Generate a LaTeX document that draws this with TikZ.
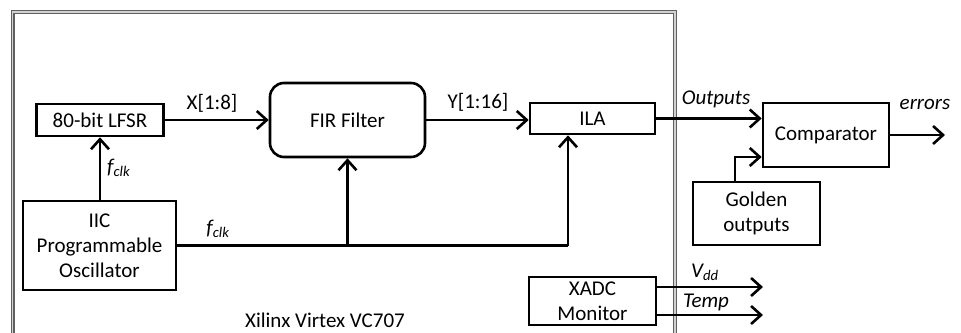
\documentclass[tikz,border=0pt]{standalone}
\usepackage{fontspec}
\setmainfont{Carlito}
\usetikzlibrary{arrows.meta,positioning}

\tikzset{
  blockbox/.style={draw, line width=2.6pt, fill=white, align=center, inner sep=0pt},
  wire/.style={line width=2.6pt},
  sig/.style={wire, -{Straight Barb[length=10pt,width=18pt,line width=2.6pt]}},
  lbl/.style={inner sep=0pt}
}

\begin{document}
\begin{tikzpicture}[x=1pt, y=-1pt, font=\fontsize{21}{25}\selectfont]
  \useasboundingbox (0,0) rectangle (961,332);
  \clip (0,0) rectangle (961,332);

  % board outline
  \draw[draw=gray!75!black, line width=1.2pt, double=gray!35, double distance=1.6pt]
    (12.5,12) rectangle (675,360);

  % blocks
  \node[blockbox, minimum width=127pt, minimum height=32pt] (lfsr) at (100,120) {80-bit LFSR};
  \node[blockbox, rounded corners=14pt, minimum width=155pt, minimum height=74pt] (fir) at (347.5,120) {FIR Filter};
  \node[blockbox, minimum width=125pt, minimum height=31pt] (ila) at (592.5,118.5) {ILA};
  \node[blockbox, minimum width=126pt, minimum height=64pt] (comp) at (826,135) {Comparator};
  \node[blockbox, minimum width=127pt, minimum height=63pt] (gold) at (756.5,213.5) {Golden\\outputs};
  \node[blockbox, minimum width=153pt, minimum height=89pt] (osc) at (99.5,245.5) {IIC\\Programmable\\Oscillator};
  \node[blockbox, minimum width=127pt, minimum height=48pt] (xadc) at (592.5,301) {XADC\\Monitor};

  % free ends
  \coordinate (clkila) at (568,245.5);
  \coordinate (gtap) at (735,157);
  \coordinate (err) at (945,135);
  \coordinate (vdd) at (763,287);
  \coordinate (temp) at (763,315);

  % connectors
  \draw[sig] (lfsr.east) -- (fir.west);
  \draw[sig] (fir.east) -- (fir.east -| ila.west);
  \draw[sig] (ila.east) -- (ila.east -| comp.west);
  \draw[sig] (comp.east) -- (err);
  \draw[sig] (osc.north -| lfsr.south) -- (lfsr.south);
  \draw[wire] (osc.east) -- (clkila);
  \draw[sig] (clkila) -- (clkila |- ila.south);
  \draw[sig] (fir.south |- osc.east) -- (fir.south);
  \draw[sig] (gtap |- gold.north) -- (gtap) -- (gtap -| comp.west);
  \draw[sig] (vdd -| xadc.east) -- (vdd);
  \draw[sig] (temp -| xadc.east) -- (temp);

  % labels
  \node[lbl] (xlbl) at (212,103) {X[1:8]};
  \node[lbl] (ylbl) at (478,102) {Y[1:16]};
  \node[lbl] (outlbl) at (716,99) {\textit{Outputs}};
  \node[lbl] (errlbl) at (925,104) {\textit{errors}};
  \node[lbl, anchor=west] (fclka) at (107,168) {\textit{f\textsubscript{clk}}};
  \node[lbl] (fclkb) at (218,229) {\textit{f\textsubscript{clk}}};
  \node[lbl] (vddlbl) at (705,272) {\textit{V\textsubscript{dd}}};
  \node[lbl] (templbl) at (706,302) {\textit{Temp}};
  \node[lbl] (board) at (325,320) {Xilinx Virtex VC707};
\end{tikzpicture}
\end{document}
